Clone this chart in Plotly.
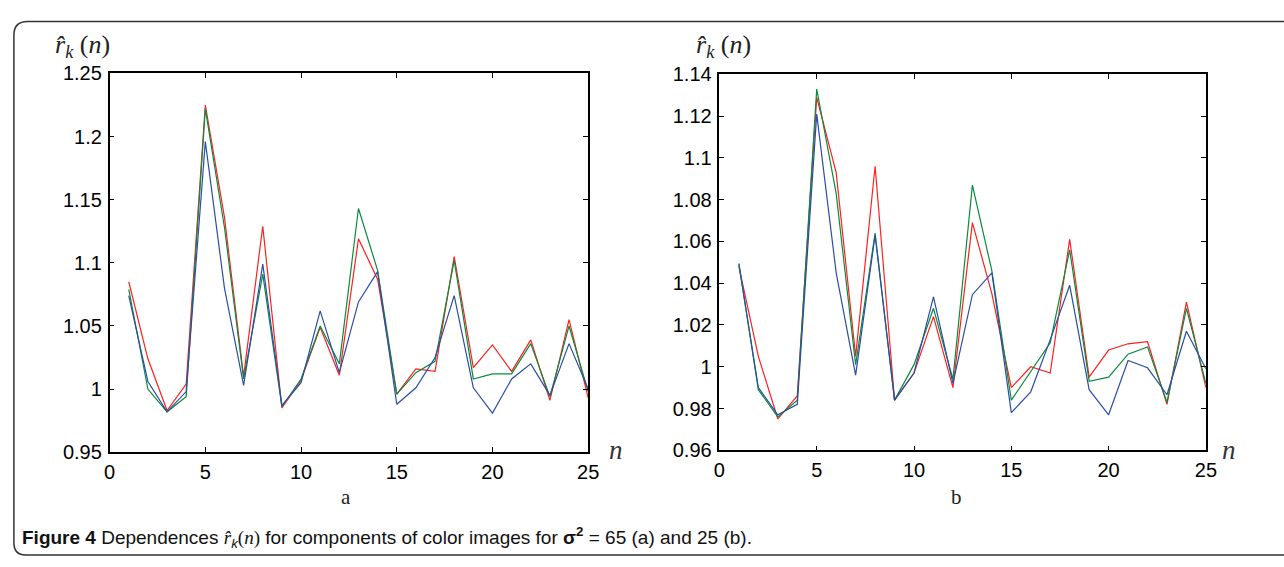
import plotly.graph_objects as go

n = list(range(1, 26))

# Panel (a): sigma^2 = 65
a_red = [1.085, 1.024, 0.983, 1.004, 1.225, 1.136, 1.010, 1.129, 0.985, 1.007,
         1.049, 1.011, 1.119, 1.087, 0.996, 1.016, 1.014, 1.105, 1.017, 1.035,
         1.014, 1.039, 0.991, 1.055, 0.993]
a_green = [1.079, 1.000, 0.982, 0.994, 1.222, 1.128, 1.008, 1.091, 0.986, 1.008,
           1.050, 1.020, 1.143, 1.094, 0.996, 1.013, 1.022, 1.102, 1.008, 1.012,
           1.012, 1.036, 0.994, 1.050, 0.998]
a_blue = [1.074, 1.006, 0.982, 0.998, 1.196, 1.080, 1.003, 1.099, 0.987, 1.005,
          1.062, 1.013, 1.069, 1.093, 0.988, 1.001, 1.025, 1.074, 1.001, 0.981,
          1.008, 1.020, 0.995, 1.036, 1.000]

# Panel (b): sigma^2 = 25
b_red = [1.048, 1.005, 0.975, 0.986, 1.129, 1.093, 1.005, 1.096, 0.984, 0.997,
         1.024, 0.990, 1.069, 1.035, 0.990, 1.000, 0.997, 1.061, 0.995, 1.008,
         1.011, 1.012, 0.982, 1.031, 0.990]
b_green = [1.0495, 0.989, 0.976, 0.984, 1.133, 1.083, 1.001, 1.064, 0.984, 1.001,
           1.028, 0.994, 1.087, 1.046, 0.984, 0.998, 1.0115, 1.056, 0.993, 0.995,
           1.006, 1.0095, 0.983, 1.028, 0.992]
b_blue = [1.049, 0.990, 0.977, 0.982, 1.121, 1.045, 0.996, 1.063, 0.984, 0.997,
          1.0335, 0.992, 1.0345, 1.045, 0.978, 0.988, 1.013, 1.039, 0.989, 0.977,
          1.003, 0.9995, 0.9866, 1.017, 0.999]

x_ticks = [0, 5, 10, 15, 20, 25]
a_yticks = [0.95, 1.0, 1.05, 1.1, 1.15, 1.2, 1.25]
b_yticks = [0.96, 0.98, 1.0, 1.02, 1.04, 1.06, 1.08, 1.1, 1.12, 1.14]

W, H = 1284, 567
RED, GREEN, BLUE = "#ff1f1f", "#0b8a3c", "#2a4da6"

def px(x):
    return x / W

def py(y):
    return 1 - y / H

fig = go.Figure()
for xs, ys, col, ax in [
    (n, a_red, RED, "x"), (n, a_green, GREEN, "x"), (n, a_blue, BLUE, "x"),
    (n, b_red, RED, "x2"), (n, b_green, GREEN, "x2"), (n, b_blue, BLUE, "x2"),
]:
    fig.add_trace(go.Scatter(
        x=xs, y=ys, mode="lines", line=dict(color=col, width=1.2),
        xaxis=ax, yaxis="y" if ax == "x" else "y2", showlegend=False,
        hoverinfo="skip"))

axis_common = dict(
    showline=True, linecolor="black", linewidth=1.5, mirror="ticks",
    ticks="inside", ticklen=5, tickwidth=1, tickcolor="black",
    showgrid=False, zeroline=False,
    tickfont=dict(family="Liberation Sans, Arial", size=20, color="black"),
)

fig.update_layout(
    width=W, height=H, margin=dict(l=0, r=0, t=0, b=0),
    paper_bgcolor="white", plot_bgcolor="white",
    xaxis=dict(domain=[px(105), px(590)], range=[0, 25], tickvals=x_ticks,
               anchor="y", ticklabelstandoff=1, **axis_common),
    yaxis=dict(domain=[py(459), py(65)], range=[0.95, 1.25], tickvals=a_yticks,
               anchor="x", ticklabelstandoff=2, **axis_common),
    xaxis2=dict(domain=[px(723), px(1216)], range=[0, 25], tickvals=x_ticks,
                anchor="y2", ticklabelstandoff=1, **axis_common),
    yaxis2=dict(domain=[py(457), py(66)], range=[0.96, 1.14], tickvals=b_yticks,
                anchor="x2", ticklabelstandoff=2, **axis_common),
)

serif = "Liberation Serif, Times New Roman"
ann = []
ylab = "<i>r̂</i><sub><i>k</i></sub> (<i>n</i>)"
for xp, yp in [(48, 36), (697, 36)]:
    ann.append(dict(x=px(xp), y=py(yp), xref="paper", yref="paper",
                    text=ylab, showarrow=False, xanchor="left", yanchor="middle",
                    font=dict(family=serif, size=26, color="#222")))
for xp in [609, 1230]:
    ann.append(dict(x=px(xp), y=py(457), xref="paper", yref="paper",
                    text="<i>n</i>", showarrow=False, xanchor="left", yanchor="middle",
                    font=dict(family=serif, size=27, color="#333")))
for xp, t in [(345, "a"), (963, "b")]:
    ann.append(dict(x=px(xp), y=py(506), xref="paper", yref="paper",
                    text=t, showarrow=False, xanchor="center", yanchor="middle",
                    font=dict(family=serif, size=21, color="#222")))
caption = ("<b>Figure 4</b> Dependences <i><span style='font-family:Liberation Serif'>r̂</span></i>"
           "<sub><i>k</i></sub><span style='font-family:Liberation Serif'>(<i>n</i>)</span>"
           " for components of color images for <b>σ<sup>2</sup></b> = 65 (a) and 25 (b).")
ann.append(dict(x=px(14), y=py(548), xref="paper", yref="paper", text=caption,
                showarrow=False, xanchor="left", yanchor="middle",
                font=dict(family="Liberation Sans Narrow, Liberation Sans, Arial", size=19, color="#111")))
fig.update_layout(annotations=ann)

frame = (f"M {px(22)},{py(11)} L {px(1300)},{py(11)} "
         f"M {px(22)},{py(11)} Q {px(8)},{py(11)} {px(8)},{py(25)} "
         f"L {px(8)},{py(553)} Q {px(8)},{py(566)} {px(20)},{py(566)} L {px(1300)},{py(566)}")
fig.add_shape(type="path", xref="paper", yref="paper", path=frame,
              line=dict(color="#333", width=1.5))

fig.write_html("out.html")
